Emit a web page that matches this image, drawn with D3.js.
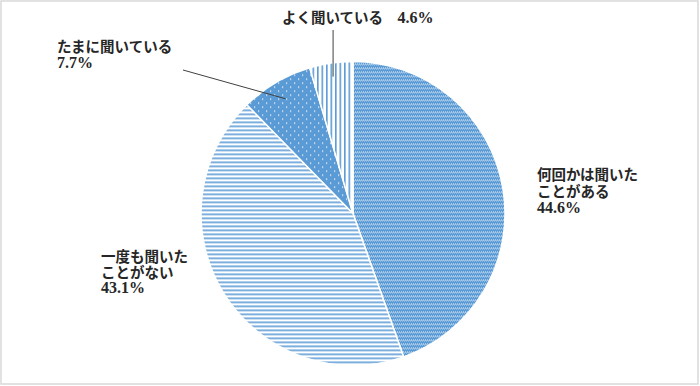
<!DOCTYPE html>
<html>
<head>
<meta charset="utf-8">
<script src="https://cdn.jsdelivr.net/npm/d3@7"></script>
<style>
  html, body { margin: 0; padding: 0; background: #fff; }
  svg text { font-family: "Liberation Serif", "Noto Sans CJK JP", serif; font-weight: bold; fill: #262626; }
</style>
</head>
<body>
<div id="chart"></div>
<script>
// DATA ----------------------------------------------------------------------
var categories = ["何回かは聞いたことがある", "一度も聞いたことがない", "たまに聞いている", "よく聞いている"];
var values = [44.6, 43.1, 7.7, 4.6];
var labelLines = [
	["何回かは聞いた", "ことがある"],
	["一度も聞いた", "ことがない"],
	["たまに聞いている"],
	["よく聞いている"]
];

// SIZE ----------------------------------------------------------------------
var width = 700, height = 386;
var cx = 353, cy = 213.5, radius = 152;

var svg = d3.select("#chart")
	.append("svg")
	.attr("width", width)
	.attr("height", height);

// frame
svg.append("rect")
	.attr("x", 1).attr("y", 1)
	.attr("width", width - 3).attr("height", height - 3)
	.style("fill", "#fff")
	.style("stroke", "#d9d9d9")
	.style("stroke-width", 1.5);

// PATTERNS -------------------------------------------------------------------
var blue = "#5b9bd5";
var defs = svg.append("defs");

// checker dots (何回か)
var p0 = defs.append("pattern").attr("id", "pat0")
	.attr("patternUnits", "userSpaceOnUse").attr("width", 4).attr("height", 4);
p0.append("rect").attr("width", 4).attr("height", 4).style("fill", blue);
p0.append("rect").attr("x", 0).attr("y", 2).attr("width", 1).attr("height", 1).style("fill", "#fff").style("opacity", 0.9);
p0.append("rect").attr("x", 2).attr("y", 2).attr("width", 1).attr("height", 1).style("fill", "#fff").style("opacity", 0.9);
p0.append("rect").attr("x", 1).attr("y", 3).attr("width", 1).attr("height", 1).style("fill", "#d6e6f5").style("opacity", 0.8);
p0.append("rect").attr("x", 3).attr("y", 3).attr("width", 1).attr("height", 1).style("fill", "#d6e6f5").style("opacity", 0.8);

// horizontal lines (一度も)
var p1 = defs.append("pattern").attr("id", "pat1")
	.attr("patternUnits", "userSpaceOnUse").attr("width", 8).attr("height", 4);
p1.append("rect").attr("width", 8).attr("height", 4).style("fill", "#fff");
p1.append("rect").attr("y", 0).attr("width", 8).attr("height", 1.6).style("fill", blue);

// dots on solid (たまに)
var p2 = defs.append("pattern").attr("id", "pat2")
	.attr("patternUnits", "userSpaceOnUse").attr("width", 8).attr("height", 8);
p2.append("rect").attr("width", 8).attr("height", 8).style("fill", blue);
p2.append("rect").attr("x", 1).attr("y", 1).attr("width", 1.2).attr("height", 1.2).style("fill", "#fff");
p2.append("rect").attr("x", 5).attr("y", 5).attr("width", 1.2).attr("height", 1.2).style("fill", "#fff");

// vertical lines (よく)
var p3 = defs.append("pattern").attr("id", "pat3")
	.attr("patternUnits", "userSpaceOnUse").attr("width", 4.5).attr("height", 8);
p3.append("rect").attr("width", 4.5).attr("height", 8).style("fill", "#fff");
p3.append("rect").attr("x", 0).attr("width", 1.6).attr("height", 8).style("fill", blue);

// PIE ------------------------------------------------------------------------
var pie = d3.pie().sort(null).value(function(d) { return d; });
var arcs = pie(values);
var arc = d3.arc().innerRadius(0).outerRadius(radius);

var g = svg.append("g").attr("transform", "translate(" + cx + "," + cy + ")");

g.selectAll("path")
	.data(arcs)
	.enter()
	.append("path")
	.attr("d", arc)
	.style("fill", function(d, i) { return "url(#pat" + i + ")"; })
	.style("stroke", "#fff")
	.style("stroke-width", 1.5);

// LABELS ---------------------------------------------------------------------
// label anchors: x, y of first line, and line step
var labelPos = [
	{x: 537, y: 180, step: 16.5, pctInline: false},
	{x: 101, y: 262, step: 15.5, pctInline: false},
	{x: 57, y: 52, step: 16, pctInline: false},
	{x: 282, y: 23, step: 0, pctInline: true}
];

function pct(v) { return v.toFixed(1) + "%"; }

labelPos.forEach(function(p, i) {
	var t = svg.append("text")
		.attr("x", p.x)
		.attr("y", p.y)
		.style("font-size", "14.5px");
	if (p.pctInline) {
		t.append("tspan").text(labelLines[i][0] + "\u3000");
		t.append("tspan").style("font-size", "16px").text(pct(values[i]));
		return;
	}
	labelLines[i].forEach(function(s, j) {
		t.append("tspan")
			.attr("x", p.x)
			.attr("y", p.y + j * p.step)
			.text(s);
	});
	t.append("tspan")
		.attr("x", p.x)
		.attr("y", p.y + labelLines[i].length * p.step)
		.style("font-size", "16px")
		.text(pct(values[i]));
});

// leader lines
function pointAt(d, f) {
	var a = (d.startAngle + d.endAngle) / 2;
	return [cx + radius * f * Math.sin(a), cy - radius * f * Math.cos(a)];
}
var lead2 = pointAt(arcs[2], 0.875);
var lead3 = pointAt(arcs[3], 0.91);

svg.append("line")
	.attr("x1", 183).attr("y1", 70)
	.attr("x2", lead2[0]).attr("y2", lead2[1])
	.style("stroke", "#404040").style("stroke-width", 1);

svg.append("line")
	.attr("x1", lead3[0]).attr("y1", 30)
	.attr("x2", lead3[0]).attr("y2", lead3[1])
	.style("stroke", "#404040").style("stroke-width", 1);
</script>
</body>
</html>
